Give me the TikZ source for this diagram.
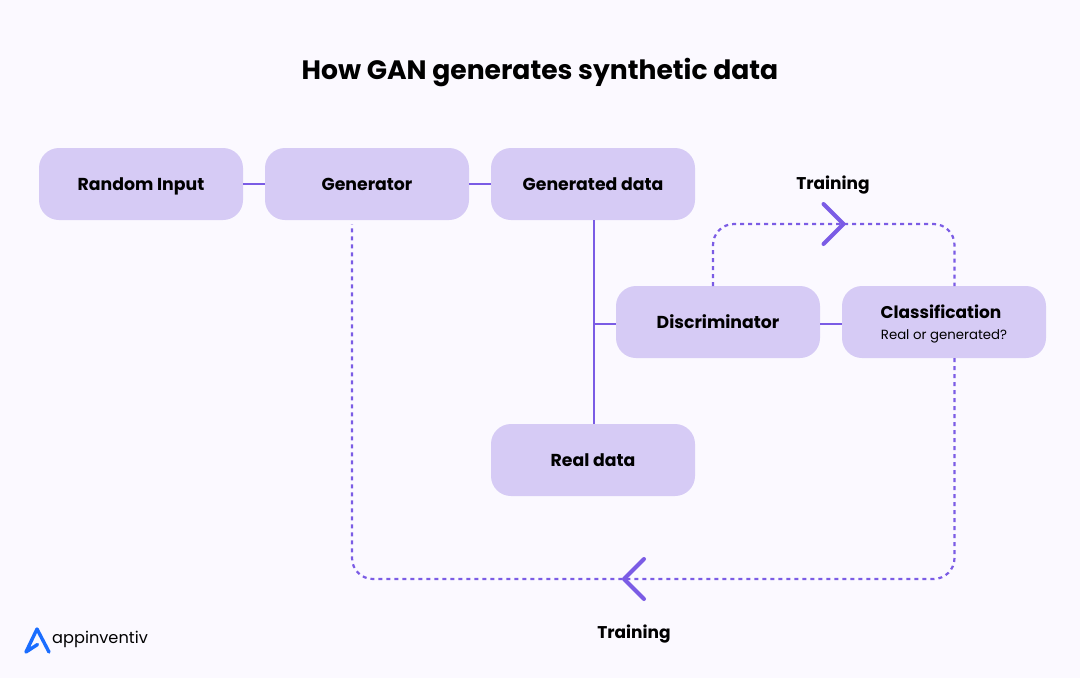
\documentclass[tikz,border=0pt]{standalone}
\usepackage{fontspec}
\setmainfont{Poppins}
\usetikzlibrary{calc}
\definecolor{pagebg}{HTML}{FBF9FF}
\definecolor{boxfill}{HTML}{D6CBF5}
\definecolor{linecol}{HTML}{7B5CE5}
\definecolor{logoblue}{HTML}{1A6DFF}
\tikzset{
    block/.style={fill=boxfill,rounded corners=20pt,minimum width=204pt,minimum height=72pt,inner sep=0pt,align=center,text height=14pt,text depth=2pt,font=\fontsize{17.3}{21}\selectfont\bfseries},
    link/.style={draw=linecol,line width=2pt},
    dots/.style={draw=linecol,line width=2.2pt,dash pattern=on 4pt off 4pt,rounded corners=21pt},
    chevron/.style={draw=linecol,line width=4pt,line cap=round,line join=round},
    caption/.style={inner sep=0pt,text height=14pt,text depth=2pt,font=\fontsize{17}{21}\selectfont\bfseries}
}
\begin{document}
\begin{tikzpicture}[x=1pt,y=-1pt]
    \fill[pagebg] (0,0) rectangle (1080,678);
    \node [font=\fontsize{26.6}{32}\selectfont\bfseries] (title) at (540,73) {How GAN generates synthetic data};

    \node [block] (random) at (141,184) {Random Input};
    \node [block] (generator) at (367,184) {Generator};
    \node [block] (generated) at (593,184) {Generated data};
    \node [block] (discriminator) at (718,322) {Discriminator};
    \node [block] (classification) at (944,322) {};
    \node [block] (real) at (593,460) {Real data};
    \node [caption] (classtitle) at (941,312) {Classification};
    \node [font=\fontsize{13.3}{16}\selectfont] (classsub) at (944,336.5) {Real or generated?};

    \draw[link] (random) -- (generator);
    \draw[link] (generator) -- (generated);
    \coordinate (junction) at (594,324);
    \draw[link] (generated.south -| junction) -- (real.north -| junction);
    \draw[link] (junction) -- (discriminator.west |- junction);
    \draw[link] (discriminator.east |- junction) -- (classification.west |- junction);

    % training loops
    \coordinate (uppertip) at (843.5,224);
    \coordinate (lowertip) at (624,579);
    \draw[dots] (713,286) -- (713,224) -- (954.5,224) -- (954.5,286);
    \draw[dots] (954.5,358) -- (954.5,579) -- (352,579) -- (352,224);
    \draw[chevron] ($(uppertip)+(-20,-20)$) -- (uppertip) -- ($(uppertip)+(-20,20)$);
    \draw[chevron] ($(lowertip)+(20,-20)$) -- (lowertip) -- ($(lowertip)+(20,20)$);
    \node [caption] (uppertrain) at (833,183) {Training};
    \node [caption] (lowertrain) at (634,632) {Training};

    % logo
    \draw[logoblue,line width=3.4pt,line cap=round,line join=round] (49,652) -- (37,629) -- (26,652) -- (37.5,644.5);
    \node [anchor=west,inner sep=0pt,font=\fontsize{16.2}{20}\selectfont] (brand) at (52,639) {appinventiv};
\end{tikzpicture}
\end{document}
